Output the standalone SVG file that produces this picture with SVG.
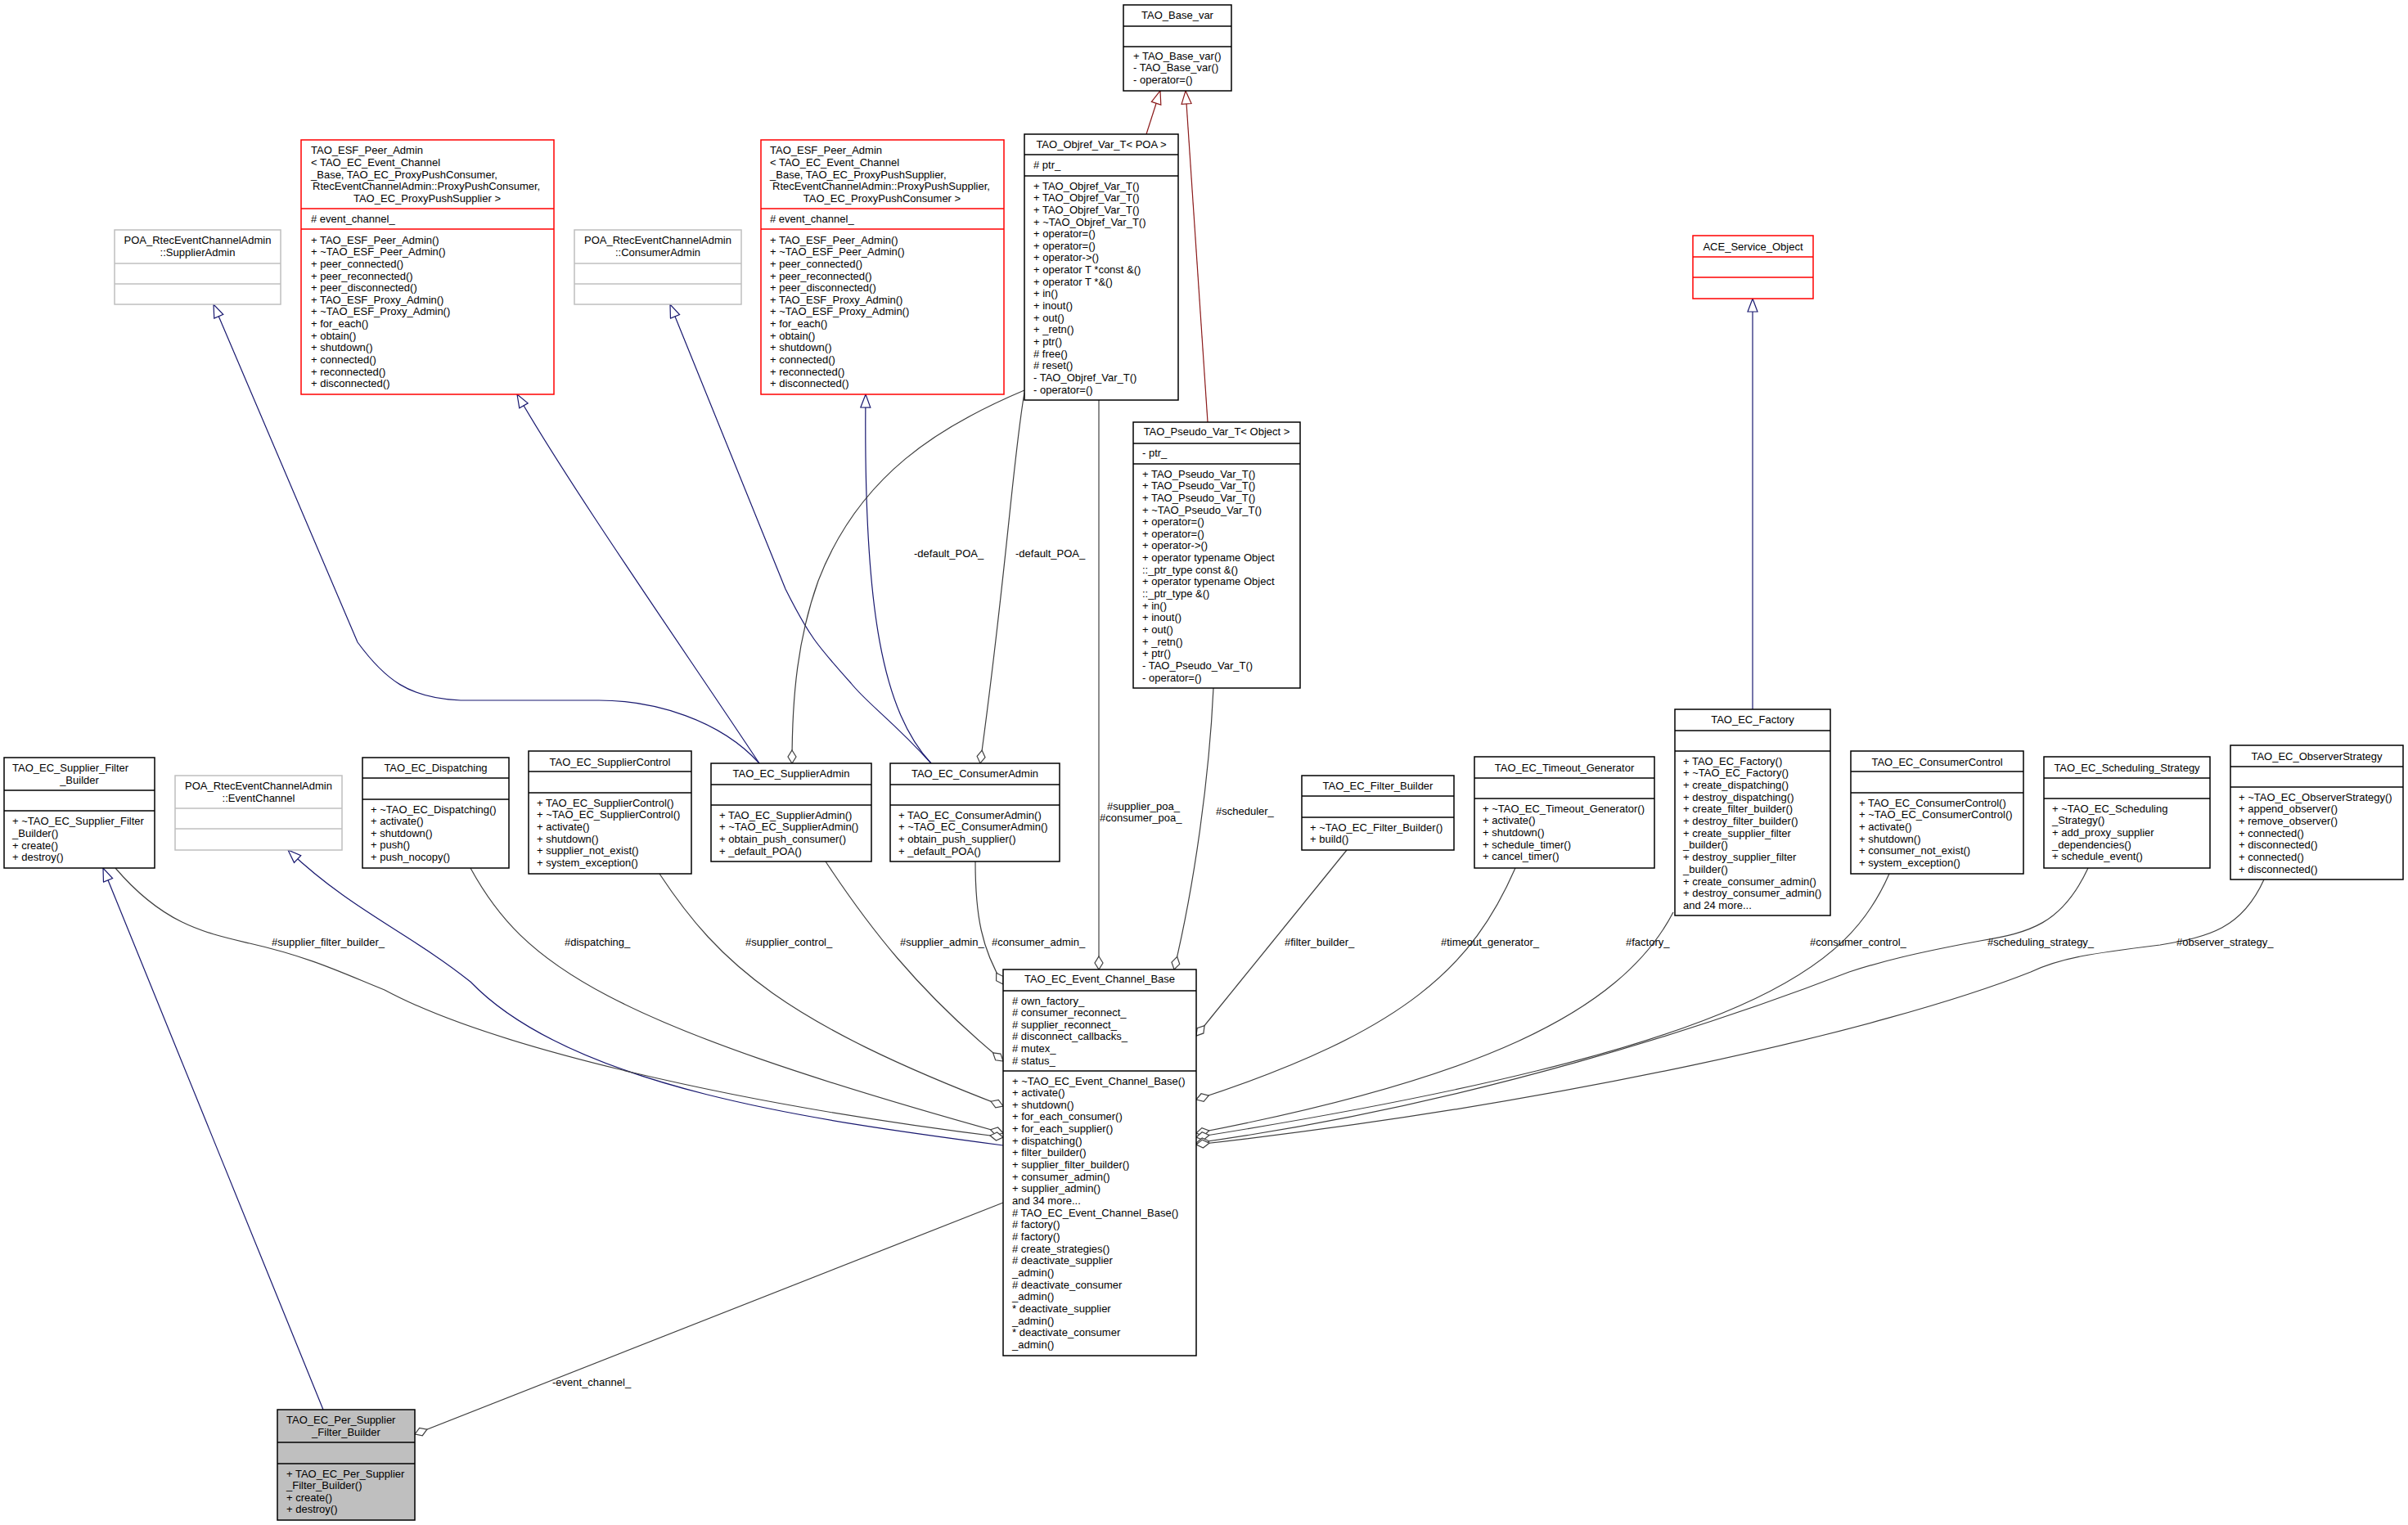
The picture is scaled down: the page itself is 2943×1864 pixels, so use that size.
<svg xmlns="http://www.w3.org/2000/svg" width="2943" height="1864" viewBox="0 0 2943 1864">
<style>
text{font-family:"Liberation Sans",Arial,sans-serif;font-size:13px;fill:#000}
.c{text-anchor:middle}
.b{fill:#fff;stroke:#000;stroke-width:1.5}
.r{fill:#fff;stroke:#ff0000;stroke-width:1.5}
.g{fill:#fff;stroke:#bfbfbf;stroke-width:1.5}
.s{fill:#bfbfbf;stroke:#000;stroke-width:1.5}
.lb{stroke:#000;stroke-width:1.5}
.lr{stroke:#ff0000;stroke-width:1.5}
.lg{stroke:#bfbfbf;stroke-width:1.5}
.e{fill:none;stroke:#404040;stroke-width:1.2;marker-end:url(#dia)}
.i{fill:none;stroke:#191970;stroke-width:1.2;marker-end:url(#tri)}
.ir{fill:none;stroke:#8b1a1a;stroke-width:1.2;marker-end:url(#trir)}
</style>
<defs>
<marker id="dia" markerUnits="userSpaceOnUse" markerWidth="20" markerHeight="12" viewBox="0 -6 20 12" refX="18" refY="0" orient="auto"><path d="M2,0 L10,-5 L18,0 L10,5 Z" fill="#fff" stroke="#404040" stroke-width="1.2"/></marker>
<marker id="tri" markerUnits="userSpaceOnUse" markerWidth="20" markerHeight="14" viewBox="0 -7 20 14" refX="18" refY="0" orient="auto"><path d="M2,-6 L18,0 L2,6 Z" fill="#fff" stroke="#191970" stroke-width="1.2"/></marker>
<marker id="trir" markerUnits="userSpaceOnUse" markerWidth="20" markerHeight="14" viewBox="0 -7 20 14" refX="18" refY="0" orient="auto"><path d="M2,-6 L18,0 L2,6 Z" fill="#fff" stroke="#8b1a1a" stroke-width="1.2"/></marker>
</defs>
<rect width="2943" height="1864" fill="#fff"/>
<g id="edges">
<path class="ir" d="M1401,164 L1418,111"/>
<path class="ir" d="M1476,516 L1449,111"/>
<path class="i" d="M2142,867 L2142,365"/>
<path class="i" d="M928,933 C880,880 800,856 732,856 L563,856 C500,854 470,830 437,785 L261,372"/>
<path class="i" d="M928,933 C840,800 700,600 632,482"/>
<path class="i" d="M1138,933 C1090,880 1060,860 1040,835 C1000,790 990,780 960,720 L819,372"/>
<path class="i" d="M1138,933 C1080,870 1055,750 1058,482"/>
<path class="i" d="M1226,1400 C1000,1370 700,1330 575,1200 C500,1140 430,1113 352,1039"/>
<path class="i" d="M395,1723 L126,1061"/>
<path class="e" d="M1252,477 C1150,520 1050,580 1000,710 C975,780 968,850 968,933"/>
<path class="e" d="M1252,480 C1238,560 1230,700 1198,933"/>
<path class="e" d="M1343,489 L1343,1185"/>
<path class="e" d="M1483,841 C1478,950 1460,1080 1435,1185"/>
<path class="e" d="M1009,1053 C1060,1130 1120,1210 1226,1297"/>
<path class="e" d="M1192,1053 C1192,1120 1200,1160 1226,1203"/>
<path class="e" d="M806,1068 C880,1180 960,1250 1226,1352"/>
<path class="e" d="M575,1061 C640,1180 740,1250 1226,1385"/>
<path class="e" d="M141,1061 C200,1130 250,1140 305,1153 C380,1170 420,1190 470,1210 C600,1280 900,1350 1226,1390"/>
<path class="e" d="M1226,1470 L507,1753"/>
<path class="e" d="M1646,1039 L1462,1266"/>
<path class="e" d="M1852,1061 C1800,1180 1720,1260 1462,1344"/>
<path class="e" d="M2045,1115 C1980,1240 1800,1320 1462,1385"/>
<path class="e" d="M2309,1068 C2260,1180 2150,1280 1462,1390"/>
<path class="e" d="M2552,1061 C2520,1130 2480,1140 2420,1150 C2340,1165 2300,1175 2260,1188 C2100,1250 1800,1350 1462,1397"/>
<path class="e" d="M2767,1075 C2740,1135 2700,1145 2640,1155 C2560,1165 2520,1170 2482,1188 C2300,1260 1900,1350 1462,1399"/>
</g>
<g id="labels">
<text x="1117" y="681">-default_POA_</text>
<text x="1241" y="681">-default_POA_</text>
<text x="1353" y="990">#supplier_poa_</text>
<text x="1344" y="1004">#consumer_poa_</text>
<text x="1486" y="996">#scheduler_</text>
<text x="332" y="1156">#supplier_filter_builder_</text>
<text x="690" y="1156">#dispatching_</text>
<text x="911" y="1156">#supplier_control_</text>
<text x="1100" y="1156">#supplier_admin_</text>
<text x="1212" y="1156">#consumer_admin_</text>
<text x="1570" y="1156">#filter_builder_</text>
<text x="1761" y="1156">#timeout_generator_</text>
<text x="1987" y="1156">#factory_</text>
<text x="2212" y="1156">#consumer_control_</text>
<text x="2429" y="1156">#scheduling_strategy_</text>
<text x="2660" y="1156">#observer_strategy_</text>
<text x="675" y="1694">-event_channel_</text>
</g>
<g id="TAO_Base_var">
<rect class="b" x="1373" y="6" width="132" height="105"/>
<line class="lb" x1="1373" y1="32" x2="1505" y2="32"/><line class="lb" x1="1373" y1="57" x2="1505" y2="57"/>
<text class="c" x="1439" y="23">TAO_Base_var</text>
<text x="1385" y="73">+ TAO_Base_var()</text>
<text x="1385" y="87">- TAO_Base_var()</text>
<text x="1385" y="102">- operator=()</text>
</g>
<g id="TAO_Objref_Var_T">
<rect class="b" x="1252" y="164" width="188" height="325"/>
<line class="lb" x1="1252" y1="189" x2="1440" y2="189"/><line class="lb" x1="1252" y1="215" x2="1440" y2="215"/>
<text class="c" x="1346" y="181">TAO_Objref_Var_T&lt; POA &gt;</text>
<text x="1263" y="206"># ptr_</text>
<text x="1263" y="231.5">+ TAO_Objref_Var_T()</text>
<text x="1263" y="246.2">+ TAO_Objref_Var_T()</text>
<text x="1263" y="260.8">+ TAO_Objref_Var_T()</text>
<text x="1263" y="275.5">+ ~TAO_Objref_Var_T()</text>
<text x="1263" y="290.1">+ operator=()</text>
<text x="1263" y="304.8">+ operator=()</text>
<text x="1263" y="319.4">+ operator-&gt;()</text>
<text x="1263" y="334.1">+ operator T *const &amp;()</text>
<text x="1263" y="348.7">+ operator T *&amp;()</text>
<text x="1263" y="363.4">+ in()</text>
<text x="1263" y="378">+ inout()</text>
<text x="1263" y="392.7">+ out()</text>
<text x="1263" y="407.3">+ _retn()</text>
<text x="1263" y="422">+ ptr()</text>
<text x="1263" y="436.6"># free()</text>
<text x="1263" y="451.3"># reset()</text>
<text x="1263" y="465.9">- TAO_Objref_Var_T()</text>
<text x="1263" y="480.6">- operator=()</text>
</g>
<g id="TAO_Pseudo_Var_T">
<rect class="b" x="1385" y="516" width="204" height="325"/>
<line class="lb" x1="1385" y1="542" x2="1589" y2="542"/><line class="lb" x1="1385" y1="567" x2="1589" y2="567"/>
<text class="c" x="1487" y="532">TAO_Pseudo_Var_T&lt; Object &gt;</text>
<text x="1396" y="558">- ptr_</text>
<text x="1396" y="583.5">+ TAO_Pseudo_Var_T()</text>
<text x="1396" y="598.2">+ TAO_Pseudo_Var_T()</text>
<text x="1396" y="612.8">+ TAO_Pseudo_Var_T()</text>
<text x="1396" y="627.5">+ ~TAO_Pseudo_Var_T()</text>
<text x="1396" y="642.1">+ operator=()</text>
<text x="1396" y="656.8">+ operator=()</text>
<text x="1396" y="671.4">+ operator-&gt;()</text>
<text x="1396" y="686.1">+ operator typename Object</text>
<text x="1396" y="700.7">::_ptr_type const &amp;()</text>
<text x="1396" y="715.4">+ operator typename Object</text>
<text x="1396" y="730">::_ptr_type &amp;()</text>
<text x="1396" y="744.7">+ in()</text>
<text x="1396" y="759.3">+ inout()</text>
<text x="1396" y="774">+ out()</text>
<text x="1396" y="788.6">+ _retn()</text>
<text x="1396" y="803.3">+ ptr()</text>
<text x="1396" y="817.9">- TAO_Pseudo_Var_T()</text>
<text x="1396" y="832.6">- operator=()</text>
</g>
<g id="POA_SupplierAdmin">
<rect class="g" x="140" y="281" width="203" height="91"/>
<line class="lg" x1="140" y1="322" x2="343" y2="322"/><line class="lg" x1="140" y1="347" x2="343" y2="347"/>
<text class="c" x="241.5" y="297.5">POA_RtecEventChannelAdmin</text>
<text class="c" x="241.5" y="312.5">::SupplierAdmin</text>
</g>
<g id="ESF_Peer_Admin_1">
<rect class="r" x="368" y="171" width="309" height="311"/>
<line class="lr" x1="368" y1="255" x2="677" y2="255"/><line class="lr" x1="368" y1="280" x2="677" y2="280"/>
<text x="380" y="187.5">TAO_ESF_Peer_Admin</text>
<text x="380" y="202.5">&lt; TAO_EC_Event_Channel</text>
<text x="380" y="217.5">_Base, TAO_EC_ProxyPushConsumer,</text>
<text x="382" y="231.5">RtecEventChannelAdmin::ProxyPushConsumer,</text>
<text class="c" x="522" y="246.5">TAO_EC_ProxyPushSupplier &gt;</text>
<text x="380" y="271.5"># event_channel_</text>
<text x="380" y="297.5">+ TAO_ESF_Peer_Admin()</text>
<text x="380" y="312.2">+ ~TAO_ESF_Peer_Admin()</text>
<text x="380" y="326.8">+ peer_connected()</text>
<text x="380" y="341.5">+ peer_reconnected()</text>
<text x="380" y="356.1">+ peer_disconnected()</text>
<text x="380" y="370.8">+ TAO_ESF_Proxy_Admin()</text>
<text x="380" y="385.4">+ ~TAO_ESF_Proxy_Admin()</text>
<text x="380" y="400.1">+ for_each()</text>
<text x="380" y="414.7">+ obtain()</text>
<text x="380" y="429.4">+ shutdown()</text>
<text x="380" y="444">+ connected()</text>
<text x="380" y="458.7">+ reconnected()</text>
<text x="380" y="473.3">+ disconnected()</text>
</g>
<g id="POA_ConsumerAdmin">
<rect class="g" x="702" y="281" width="204" height="91"/>
<line class="lg" x1="702" y1="322" x2="906" y2="322"/><line class="lg" x1="702" y1="347" x2="906" y2="347"/>
<text class="c" x="804" y="297.5">POA_RtecEventChannelAdmin</text>
<text class="c" x="804" y="312.5">::ConsumerAdmin</text>
</g>
<g id="ESF_Peer_Admin_2">
<rect class="r" x="930" y="171" width="297" height="311"/>
<line class="lr" x1="930" y1="255" x2="1227" y2="255"/><line class="lr" x1="930" y1="280" x2="1227" y2="280"/>
<text x="941" y="187.5">TAO_ESF_Peer_Admin</text>
<text x="941" y="202.5">&lt; TAO_EC_Event_Channel</text>
<text x="941" y="217.5">_Base, TAO_EC_ProxyPushSupplier,</text>
<text x="944" y="231.5">RtecEventChannelAdmin::ProxyPushSupplier,</text>
<text class="c" x="1078" y="246.5">TAO_EC_ProxyPushConsumer &gt;</text>
<text x="941" y="271.5"># event_channel_</text>
<text x="941" y="297.5">+ TAO_ESF_Peer_Admin()</text>
<text x="941" y="312.2">+ ~TAO_ESF_Peer_Admin()</text>
<text x="941" y="326.8">+ peer_connected()</text>
<text x="941" y="341.5">+ peer_reconnected()</text>
<text x="941" y="356.1">+ peer_disconnected()</text>
<text x="941" y="370.8">+ TAO_ESF_Proxy_Admin()</text>
<text x="941" y="385.4">+ ~TAO_ESF_Proxy_Admin()</text>
<text x="941" y="400.1">+ for_each()</text>
<text x="941" y="414.7">+ obtain()</text>
<text x="941" y="429.4">+ shutdown()</text>
<text x="941" y="444">+ connected()</text>
<text x="941" y="458.7">+ reconnected()</text>
<text x="941" y="473.3">+ disconnected()</text>
</g>
<g id="ACE_Service_Object">
<rect class="r" x="2069" y="288" width="147" height="77"/>
<line class="lr" x1="2069" y1="314" x2="2216" y2="314"/><line class="lr" x1="2069" y1="339" x2="2216" y2="339"/>
<text class="c" x="2142.5" y="305.5">ACE_Service_Object</text>
</g>
<g id="TAO_EC_Supplier_Filter_Builder">
<rect class="b" x="5" y="926" width="184" height="135"/>
<line class="lb" x1="5" y1="966" x2="189" y2="966"/><line class="lb" x1="5" y1="991" x2="189" y2="991"/>
<text x="15" y="942.5">TAO_EC_Supplier_Filter</text>
<text class="c" x="97" y="957.5">_Builder</text>
<text x="15" y="1007.5">+ ~TAO_EC_Supplier_Filter</text>
<text x="15" y="1022.5">_Builder()</text>
<text x="15" y="1037.5">+ create()</text>
<text x="15" y="1051.5">+ destroy()</text>
</g>
<g id="POA_EventChannel">
<rect class="g" x="214" y="948" width="204" height="91"/>
<line class="lg" x1="214" y1="988" x2="418" y2="988"/><line class="lg" x1="214" y1="1013" x2="418" y2="1013"/>
<text class="c" x="316" y="964.5">POA_RtecEventChannelAdmin</text>
<text class="c" x="316" y="979.5">::EventChannel</text>
</g>
<g id="TAO_EC_Dispatching">
<rect class="b" x="443" y="926" width="179" height="135"/>
<line class="lb" x1="443" y1="951" x2="622" y2="951"/><line class="lb" x1="443" y1="977" x2="622" y2="977"/>
<text class="c" x="532.5" y="942.5">TAO_EC_Dispatching</text>
<text x="453" y="993.5">+ ~TAO_EC_Dispatching()</text>
<text x="453" y="1008">+ activate()</text>
<text x="453" y="1022.5">+ shutdown()</text>
<text x="453" y="1037">+ push()</text>
<text x="453" y="1051.5">+ push_nocopy()</text>
</g>
<g id="TAO_EC_SupplierControl">
<rect class="b" x="646" y="918" width="199" height="150"/>
<line class="lb" x1="646" y1="943" x2="845" y2="943"/><line class="lb" x1="646" y1="969" x2="845" y2="969"/>
<text class="c" x="745.5" y="935.5">TAO_EC_SupplierControl</text>
<text x="656" y="985.5">+ TAO_EC_SupplierControl()</text>
<text x="656" y="1000.2">+ ~TAO_EC_SupplierControl()</text>
<text x="656" y="1014.9">+ activate()</text>
<text x="656" y="1029.6">+ shutdown()</text>
<text x="656" y="1044.3">+ supplier_not_exist()</text>
<text x="656" y="1059">+ system_exception()</text>
</g>
<g id="TAO_EC_SupplierAdmin">
<rect class="b" x="869" y="933" width="196" height="120"/>
<line class="lb" x1="869" y1="959" x2="1065" y2="959"/><line class="lb" x1="869" y1="984" x2="1065" y2="984"/>
<text class="c" x="967" y="949.5">TAO_EC_SupplierAdmin</text>
<text x="879" y="1000.5">+ TAO_EC_SupplierAdmin()</text>
<text x="879" y="1015.2">+ ~TAO_EC_SupplierAdmin()</text>
<text x="879" y="1029.9">+ obtain_push_consumer()</text>
<text x="879" y="1044.6">+ _default_POA()</text>
</g>
<g id="TAO_EC_ConsumerAdmin">
<rect class="b" x="1088" y="933" width="207" height="120"/>
<line class="lb" x1="1088" y1="959" x2="1295" y2="959"/><line class="lb" x1="1088" y1="984" x2="1295" y2="984"/>
<text class="c" x="1191.5" y="949.5">TAO_EC_ConsumerAdmin</text>
<text x="1098" y="1000.5">+ TAO_EC_ConsumerAdmin()</text>
<text x="1098" y="1015.2">+ ~TAO_EC_ConsumerAdmin()</text>
<text x="1098" y="1029.9">+ obtain_push_supplier()</text>
<text x="1098" y="1044.6">+ _default_POA()</text>
</g>
<g id="TAO_EC_Filter_Builder">
<rect class="b" x="1591" y="948" width="186" height="91"/>
<line class="lb" x1="1591" y1="973" x2="1777" y2="973"/><line class="lb" x1="1591" y1="999" x2="1777" y2="999"/>
<text class="c" x="1684" y="964.5">TAO_EC_Filter_Builder</text>
<text x="1601" y="1015.5">+ ~TAO_EC_Filter_Builder()</text>
<text x="1601" y="1029.5">+ build()</text>
</g>
<g id="TAO_EC_Timeout_Generator">
<rect class="b" x="1802" y="925" width="220" height="136"/>
<line class="lb" x1="1802" y1="951" x2="2022" y2="951"/><line class="lb" x1="1802" y1="976" x2="2022" y2="976"/>
<text class="c" x="1912" y="942.5">TAO_EC_Timeout_Generator</text>
<text x="1812" y="992.5">+ ~TAO_EC_Timeout_Generator()</text>
<text x="1812" y="1007.2">+ activate()</text>
<text x="1812" y="1021.9">+ shutdown()</text>
<text x="1812" y="1036.6">+ schedule_timer()</text>
<text x="1812" y="1051.3">+ cancel_timer()</text>
</g>
<g id="TAO_EC_Factory">
<rect class="b" x="2047" y="867" width="190" height="252"/>
<line class="lb" x1="2047" y1="893" x2="2237" y2="893"/><line class="lb" x1="2047" y1="918" x2="2237" y2="918"/>
<text class="c" x="2142" y="883.5">TAO_EC_Factory</text>
<text x="2057" y="934.5">+ TAO_EC_Factory()</text>
<text x="2057" y="949.2">+ ~TAO_EC_Factory()</text>
<text x="2057" y="963.9">+ create_dispatching()</text>
<text x="2057" y="978.6">+ destroy_dispatching()</text>
<text x="2057" y="993.3">+ create_filter_builder()</text>
<text x="2057" y="1008">+ destroy_filter_builder()</text>
<text x="2057" y="1022.7">+ create_supplier_filter</text>
<text x="2057" y="1037.4">_builder()</text>
<text x="2057" y="1052.1">+ destroy_supplier_filter</text>
<text x="2057" y="1066.8">_builder()</text>
<text x="2057" y="1081.5">+ create_consumer_admin()</text>
<text x="2057" y="1096.2">+ destroy_consumer_admin()</text>
<text x="2057" y="1110.9">and 24 more...</text>
</g>
<g id="TAO_EC_ConsumerControl">
<rect class="b" x="2262" y="918" width="211" height="150"/>
<line class="lb" x1="2262" y1="943" x2="2473" y2="943"/><line class="lb" x1="2262" y1="969" x2="2473" y2="969"/>
<text class="c" x="2367.5" y="935.5">TAO_EC_ConsumerControl</text>
<text x="2272" y="985.5">+ TAO_EC_ConsumerControl()</text>
<text x="2272" y="1000.2">+ ~TAO_EC_ConsumerControl()</text>
<text x="2272" y="1014.9">+ activate()</text>
<text x="2272" y="1029.6">+ shutdown()</text>
<text x="2272" y="1044.3">+ consumer_not_exist()</text>
<text x="2272" y="1059">+ system_exception()</text>
</g>
<g id="TAO_EC_Scheduling_Strategy">
<rect class="b" x="2498" y="925" width="203" height="136"/>
<line class="lb" x1="2498" y1="951" x2="2701" y2="951"/><line class="lb" x1="2498" y1="976" x2="2701" y2="976"/>
<text class="c" x="2599.5" y="942.5">TAO_EC_Scheduling_Strategy</text>
<text x="2508" y="992.5">+ ~TAO_EC_Scheduling</text>
<text x="2508" y="1007.2">_Strategy()</text>
<text x="2508" y="1021.9">+ add_proxy_supplier</text>
<text x="2508" y="1036.6">_dependencies()</text>
<text x="2508" y="1051.3">+ schedule_event()</text>
</g>
<g id="TAO_EC_ObserverStrategy">
<rect class="b" x="2726" y="911" width="211" height="164"/>
<line class="lb" x1="2726" y1="937" x2="2937" y2="937"/><line class="lb" x1="2726" y1="962" x2="2937" y2="962"/>
<text class="c" x="2831.5" y="928.5">TAO_EC_ObserverStrategy</text>
<text x="2736" y="978.5">+ ~TAO_EC_ObserverStrategy()</text>
<text x="2736" y="993.2">+ append_observer()</text>
<text x="2736" y="1007.9">+ remove_observer()</text>
<text x="2736" y="1022.6">+ connected()</text>
<text x="2736" y="1037.3">+ disconnected()</text>
<text x="2736" y="1052">+ connected()</text>
<text x="2736" y="1066.7">+ disconnected()</text>
</g>
<g id="TAO_EC_Event_Channel_Base">
<rect class="b" x="1226" y="1185" width="236" height="472"/>
<line class="lb" x1="1226" y1="1211" x2="1462" y2="1211"/><line class="lb" x1="1226" y1="1309" x2="1462" y2="1309"/>
<text class="c" x="1344" y="1200.5">TAO_EC_Event_Channel_Base</text>
<text x="1237" y="1227.5"># own_factory_</text>
<text x="1237" y="1242.1"># consumer_reconnect_</text>
<text x="1237" y="1256.7"># supplier_reconnect_</text>
<text x="1237" y="1271.3"># disconnect_callbacks_</text>
<text x="1237" y="1285.9"># mutex_</text>
<text x="1237" y="1300.5"># status_</text>
<text x="1237" y="1325.5">+ ~TAO_EC_Event_Channel_Base()</text>
<text x="1237" y="1340.1">+ activate()</text>
<text x="1237" y="1354.8">+ shutdown()</text>
<text x="1237" y="1369.4">+ for_each_consumer()</text>
<text x="1237" y="1384.1">+ for_each_supplier()</text>
<text x="1237" y="1398.7">+ dispatching()</text>
<text x="1237" y="1413.4">+ filter_builder()</text>
<text x="1237" y="1428">+ supplier_filter_builder()</text>
<text x="1237" y="1442.7">+ consumer_admin()</text>
<text x="1237" y="1457.3">+ supplier_admin()</text>
<text x="1237" y="1472">and 34 more...</text>
<text x="1237" y="1486.6"># TAO_EC_Event_Channel_Base()</text>
<text x="1237" y="1501.3"># factory()</text>
<text x="1237" y="1515.9"># factory()</text>
<text x="1237" y="1530.6"># create_strategies()</text>
<text x="1237" y="1545.2"># deactivate_supplier</text>
<text x="1237" y="1559.9">_admin()</text>
<text x="1237" y="1574.5"># deactivate_consumer</text>
<text x="1237" y="1589.2">_admin()</text>
<text x="1237" y="1603.8">* deactivate_supplier</text>
<text x="1237" y="1618.5">_admin()</text>
<text x="1237" y="1633.1">* deactivate_consumer</text>
<text x="1237" y="1647.8">_admin()</text>
</g>
<g id="TAO_EC_Per_Supplier_Filter_Builder">
<rect class="s" x="339" y="1723" width="168" height="135"/>
<line class="lb" x1="339" y1="1763" x2="507" y2="1763"/><line class="lb" x1="339" y1="1789" x2="507" y2="1789"/>
<text x="350" y="1739.5">TAO_EC_Per_Supplier</text>
<text class="c" x="423" y="1754.5">_Filter_Builder</text>
<text x="350" y="1805.5">+ TAO_EC_Per_Supplier</text>
<text x="350" y="1820">_Filter_Builder()</text>
<text x="350" y="1834.5">+ create()</text>
<text x="350" y="1849">+ destroy()</text>
</g>
</svg>
